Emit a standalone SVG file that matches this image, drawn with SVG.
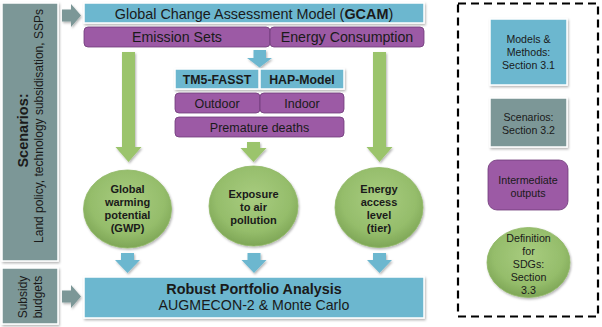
<svg xmlns="http://www.w3.org/2000/svg" width="602" height="327" viewBox="0 0 602 327">
<defs>
<filter id="sh" x="-10%" y="-10%" width="125%" height="130%">
<feDropShadow dx="1" dy="1.5" stdDeviation="1" flood-color="#000" flood-opacity="0.3"/>
</filter>
<radialGradient id="gg" cx="50%" cy="40%" r="60%">
<stop offset="0" stop-color="#a8cc7f"/>
<stop offset="0.7" stop-color="#95bd6b"/>
<stop offset="1" stop-color="#7ea656"/>
</radialGradient>
<style>
.blue{fill:#6cb7cf;stroke:#fff;stroke-width:1.5}
.purp{fill:#9c5aa5;stroke:#6e3a78;stroke-width:0.8}
.gray{fill:#7b9797;stroke:#fff;stroke-width:1.5}
.circ{fill:url(#gg);stroke:#8fb765;stroke-width:0.8}
.garrow{fill:#9bc46c}
.barrow{fill:#6cb7cf}
.yarrow{fill:#7b9797}
text{font-family:"Liberation Sans",Arial,sans-serif;fill:#1a1a1a;text-anchor:middle}
.b{font-weight:bold}
</style>
</defs>
<rect width="602" height="327" fill="#fff"/>

<g id="scenarios">
<rect class="gray" x="2" y="3" width="56" height="258" filter="url(#sh)"/>
<text class="b" font-size="14.5" transform="translate(28,130.5) rotate(-90)">Scenarios:</text>
<text font-size="12" transform="translate(42.5,126) rotate(-90)">Land policy, technology subsidisation, SSPs</text>
</g>
<g id="subsidy">
<rect class="gray" x="2" y="268" width="56" height="56" filter="url(#sh)"/>
<text font-size="12" transform="translate(26.5,297) rotate(-90)">Subsidy</text>
<text font-size="12" transform="translate(42,297) rotate(-90)">budgets</text>
</g>

<g id="connectors">
<path class="yarrow" d="M62,9.5H71V4L81,15.5L71,27V21.5H62Z" filter="url(#sh)"/>
<path class="yarrow" d="M62,290.5H71V285L81,296.5L71,308V302.5H62Z" filter="url(#sh)"/>
<path class="barrow" d="M253.5,50H266V58H272L259.5,67.5L247,58H253.5Z" filter="url(#sh)"/>
<path class="garrow" d="M122,52H135V147H141.5L128.5,162L115.5,147H122Z" filter="url(#sh)"/>
<path class="garrow" d="M373,52H386V147H392.5L379.5,162L366.5,147H373Z" filter="url(#sh)"/>
<path class="garrow" d="M247,142H260V148H266.5L253.5,162L240.5,148H247Z" filter="url(#sh)"/>
<path class="barrow" d="M121,253H134V260H140L127.5,273L115,260H121Z" filter="url(#sh)"/>
<path class="barrow" d="M247.5,253H260.5V260H266.5L254,273L241.5,260H247.5Z" filter="url(#sh)"/>
<path class="barrow" d="M373,253H386V260H392L379.5,273L367,260H373Z" filter="url(#sh)"/>
</g>

<g id="gcam">
<rect class="blue" x="84" y="3" width="340" height="20" filter="url(#sh)"/>
<text font-size="14.4" x="254" y="18.5">Global Change Assessment Model (<tspan class="b">GCAM</tspan>)</text>
</g>
<g id="emission">
<rect class="purp" x="84" y="27" width="186" height="20" rx="4"/>
<text font-size="14.2" x="177" y="42">Emission Sets</text>
</g>
<g id="energy">
<rect class="purp" x="270" y="27" width="154" height="20" rx="4"/>
<text font-size="14.2" x="347" y="42">Energy Consumption</text>
</g>
<g id="tm5">
<rect class="blue" x="175" y="69" width="84" height="20" filter="url(#sh)"/>
<text class="b" font-size="12.3" x="217" y="83.5">TM5-FASST</text>
</g>
<g id="hap">
<rect class="blue" x="260" y="69" width="84" height="20" filter="url(#sh)"/>
<text class="b" font-size="12.3" x="302" y="83.5">HAP-Model</text>
</g>
<g id="outdoor">
<rect class="purp" x="175" y="93" width="85" height="20" rx="4"/>
<text font-size="12.5" x="217" y="107.5">Outdoor</text>
</g>
<g id="indoor">
<rect class="purp" x="260" y="93" width="84" height="20" rx="4"/>
<text font-size="12.5" x="302" y="107.5">Indoor</text>
</g>
<g id="deaths">
<rect class="purp" x="175" y="117" width="169" height="20" rx="4"/>
<text font-size="12.5" x="259.5" y="131.5">Premature deaths</text>
</g>

<g id="gwp">
<ellipse class="circ" cx="127.5" cy="209" rx="44" ry="39" filter="url(#sh)"/>
<text class="b" font-size="11">
<tspan x="127.5" y="193">Global</tspan><tspan x="127.5" y="206">warming</tspan><tspan x="127.5" y="218.5">potential</tspan><tspan x="127.5" y="231.5">(GWP)</tspan>
</text>
</g>
<g id="exposure">
<ellipse class="circ" cx="253.5" cy="206" rx="44.5" ry="40" filter="url(#sh)"/>
<text class="b" font-size="11">
<tspan x="253.5" y="198">Exposure</tspan><tspan x="253.5" y="211">to air</tspan><tspan x="253.5" y="224">pollution</tspan>
</text>
</g>
<g id="access">
<ellipse class="circ" cx="379" cy="207.5" rx="44" ry="40" filter="url(#sh)"/>
<text class="b" font-size="11">
<tspan x="379" y="193">Energy</tspan><tspan x="379" y="206">access</tspan><tspan x="379" y="218.5">level</tspan><tspan x="379" y="231.5">(tier)</tspan>
</text>
</g>

<g id="robust">
<rect class="blue" x="84" y="277" width="340" height="41" filter="url(#sh)"/>
<text class="b" font-size="14.4" x="254" y="294">Robust Portfolio Analysis</text>
<text font-size="14.2" x="254" y="310">AUGMECON-2 &amp; Monte Carlo</text>
</g>

<g id="legend">
<rect x="458" y="3.5" width="140" height="313" fill="none" stroke="#000" stroke-width="2.2" stroke-dasharray="8,5"/>
</g>
<g id="leg-models">
<rect class="blue" x="490" y="19" width="77" height="66" filter="url(#sh)"/>
<text font-size="10.6"><tspan x="528.5" y="43">Models &amp;</tspan><tspan x="528.5" y="56">Methods:</tspan><tspan x="528.5" y="69">Section 3.1</tspan></text>
</g>
<g id="leg-scenarios">
<rect class="gray" x="490" y="98" width="77" height="49" filter="url(#sh)"/>
<text font-size="10.6"><tspan x="528.5" y="121">Scenarios:</tspan><tspan x="528.5" y="133.5">Section 3.2</tspan></text>
</g>
<g id="leg-intermediate">
<rect class="purp" x="488" y="160" width="80" height="50" rx="9"/>
<text font-size="10.7"><tspan x="528" y="184">Intermediate</tspan><tspan x="528" y="197">outputs</tspan></text>
</g>
<g id="leg-sdg">
<ellipse class="circ" cx="528.5" cy="262.5" rx="41.5" ry="35" filter="url(#sh)"/>
<text font-size="10.7"><tspan x="528.5" y="242">Definition</tspan><tspan x="528.5" y="255">for</tspan><tspan x="528.5" y="268">SDGs:</tspan><tspan x="528.5" y="281">Section</tspan><tspan x="528.5" y="294">3.3</tspan></text>
</g>
</svg>
